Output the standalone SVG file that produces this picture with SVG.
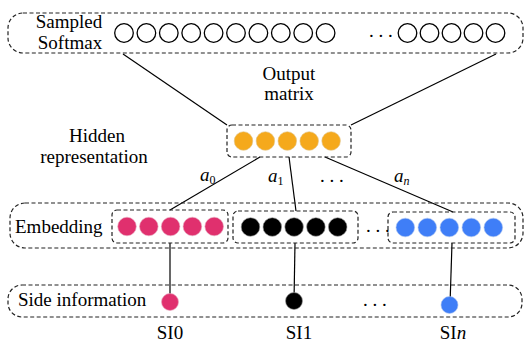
<svg xmlns="http://www.w3.org/2000/svg" width="526" height="345" viewBox="0 0 526 345">
<defs>
<style>
.t{font-family:"Liberation Serif","Times New Roman",serif;font-size:19px;fill:#000}
.it{font-style:italic}
.dash{fill:none;stroke:#222;stroke-width:1.2;stroke-dasharray:4 2.5}
.oc{fill:#fff;stroke:#000;stroke-width:1.3}
.or{fill:#F5A91C;stroke:#e0c48a;stroke-width:0.6}
.pk{fill:#E0306E;stroke:#e8a6bd;stroke-width:0.6}
.bk{fill:#000;stroke:#999;stroke-width:0.6}
.bl{fill:#3F7EF7;stroke:#a9c2f0;stroke-width:0.6}
.ln{stroke:#000;stroke-width:1.2;fill:none}
</style>
</defs>
<rect width="526" height="345" fill="#fff"/>

<g id="connectors">
<line class="ln" x1="123" y1="54" x2="227" y2="125"/>
<line class="ln" x1="496" y1="54" x2="351" y2="125"/>
<line class="ln" x1="260" y1="157" x2="170" y2="210"/>
<line class="ln" x1="289" y1="157" x2="296" y2="211"/>
<line class="ln" x1="325" y1="157" x2="453" y2="212"/>
<line class="ln" x1="170" y1="243" x2="170" y2="302"/>
<line class="ln" x1="295" y1="243" x2="294" y2="301"/>
<line class="ln" x1="452" y1="243" x2="450" y2="305"/>
<text class="t it" x="200" y="181">a<tspan font-size="12" font-style="normal" dy="3">0</tspan></text>
<text class="t it" x="268" y="182">a<tspan font-size="12" font-style="normal" dy="3">1</tspan></text>
<text class="t" x="320" y="182">. . .</text>
<text class="t it" x="394" y="182">a<tspan font-size="12" dy="3">n</tspan></text>
</g>

<g id="sampled-softmax">
<rect class="dash" x="8" y="13" width="515" height="40" rx="15"/>
<text class="t" x="69" y="28" text-anchor="middle">Sampled</text>
<text class="t" x="70" y="49" text-anchor="middle">Softmax</text>
<circle class="oc" cx="124" cy="33" r="9.3"/>
<circle class="oc" cx="146.4" cy="33" r="9.3"/>
<circle class="oc" cx="168.8" cy="33" r="9.3"/>
<circle class="oc" cx="191.2" cy="33" r="9.3"/>
<circle class="oc" cx="213.6" cy="33" r="9.3"/>
<circle class="oc" cx="236" cy="33" r="9.3"/>
<circle class="oc" cx="258.4" cy="33" r="9.3"/>
<circle class="oc" cx="280.8" cy="33" r="9.3"/>
<circle class="oc" cx="303.2" cy="33" r="9.3"/>
<circle class="oc" cx="325.6" cy="33" r="9.3"/>
<text class="t" x="369" y="37">. . .</text>
<circle class="oc" cx="407.5" cy="33" r="9.3"/>
<circle class="oc" cx="429.5" cy="33" r="9.3"/>
<circle class="oc" cx="451.5" cy="33" r="9.3"/>
<circle class="oc" cx="473.5" cy="33" r="9.3"/>
<circle class="oc" cx="495.5" cy="33" r="9.3"/>
</g>

<g id="output-matrix-label">
<text class="t" x="289" y="80" text-anchor="middle">Output</text>
<text class="t" x="289" y="100" text-anchor="middle">matrix</text>
</g>

<g id="hidden">
<text class="t" x="97" y="142" text-anchor="middle">Hidden</text>
<text class="t" x="94" y="163" text-anchor="middle">representation</text>
<rect class="dash" x="227" y="125" width="124" height="32" rx="5"/>
<circle class="or" cx="243.5" cy="141" r="9.3"/>
<circle class="or" cx="265.4" cy="141" r="9.3"/>
<circle class="or" cx="287.3" cy="141" r="9.3"/>
<circle class="or" cx="309.2" cy="141" r="9.3"/>
<circle class="or" cx="331.1" cy="141" r="9.3"/>
</g>

<g id="embedding">
<rect class="dash" x="10" y="203" width="513" height="45" rx="15"/>
<text class="t" x="15" y="233">Embedding</text>
<text class="t" x="366" y="232">. . .</text>
</g>

<g id="emb0">
<rect class="dash" x="112" y="210" width="116" height="33" rx="5"/>
<circle class="pk" cx="127" cy="226.5" r="9.3"/>
<circle class="pk" cx="148.8" cy="226.5" r="9.3"/>
<circle class="pk" cx="170.6" cy="226.5" r="9.3"/>
<circle class="pk" cx="192.4" cy="226.5" r="9.3"/>
<circle class="pk" cx="214.2" cy="226.5" r="9.3"/>
</g>

<g id="emb1">
<rect class="dash" x="233" y="211" width="125" height="32" rx="5"/>
<circle class="bk" cx="250.5" cy="227" r="9.3"/>
<circle class="bk" cx="272.3" cy="227" r="9.3"/>
<circle class="bk" cx="294.1" cy="227" r="9.3"/>
<circle class="bk" cx="315.9" cy="227" r="9.3"/>
<circle class="bk" cx="337.7" cy="227" r="9.3"/>
</g>

<g id="embn">
<rect class="dash" x="388" y="212" width="127" height="31" rx="5"/>
<circle class="bl" cx="405.3" cy="227.5" r="9.3"/>
<circle class="bl" cx="427.3" cy="227.5" r="9.3"/>
<circle class="bl" cx="449.3" cy="227.5" r="9.3"/>
<circle class="bl" cx="471.3" cy="227.5" r="9.3"/>
<circle class="bl" cx="493.3" cy="227.5" r="9.3"/>
</g>

<g id="side-information">
<rect class="dash" x="8" y="285" width="514" height="32" rx="14"/>
<text class="t" x="18" y="306">Side information</text>
<text class="t" x="363" y="306">. . .</text>
</g>

<g id="si0">
<circle class="pk" cx="170" cy="302" r="8.5"/>
<text class="t" x="170" y="339" text-anchor="middle">SI0</text>
</g>
<g id="si1">
<circle class="bk" cx="294" cy="301" r="8.5"/>
<text class="t" x="299" y="339" text-anchor="middle">SI1</text>
</g>
<g id="sin">
<circle class="bl" cx="449.5" cy="305" r="8.5"/>
<text class="t" x="453" y="339" text-anchor="middle">SI<tspan class="it">n</tspan></text>
</g>
</svg>
